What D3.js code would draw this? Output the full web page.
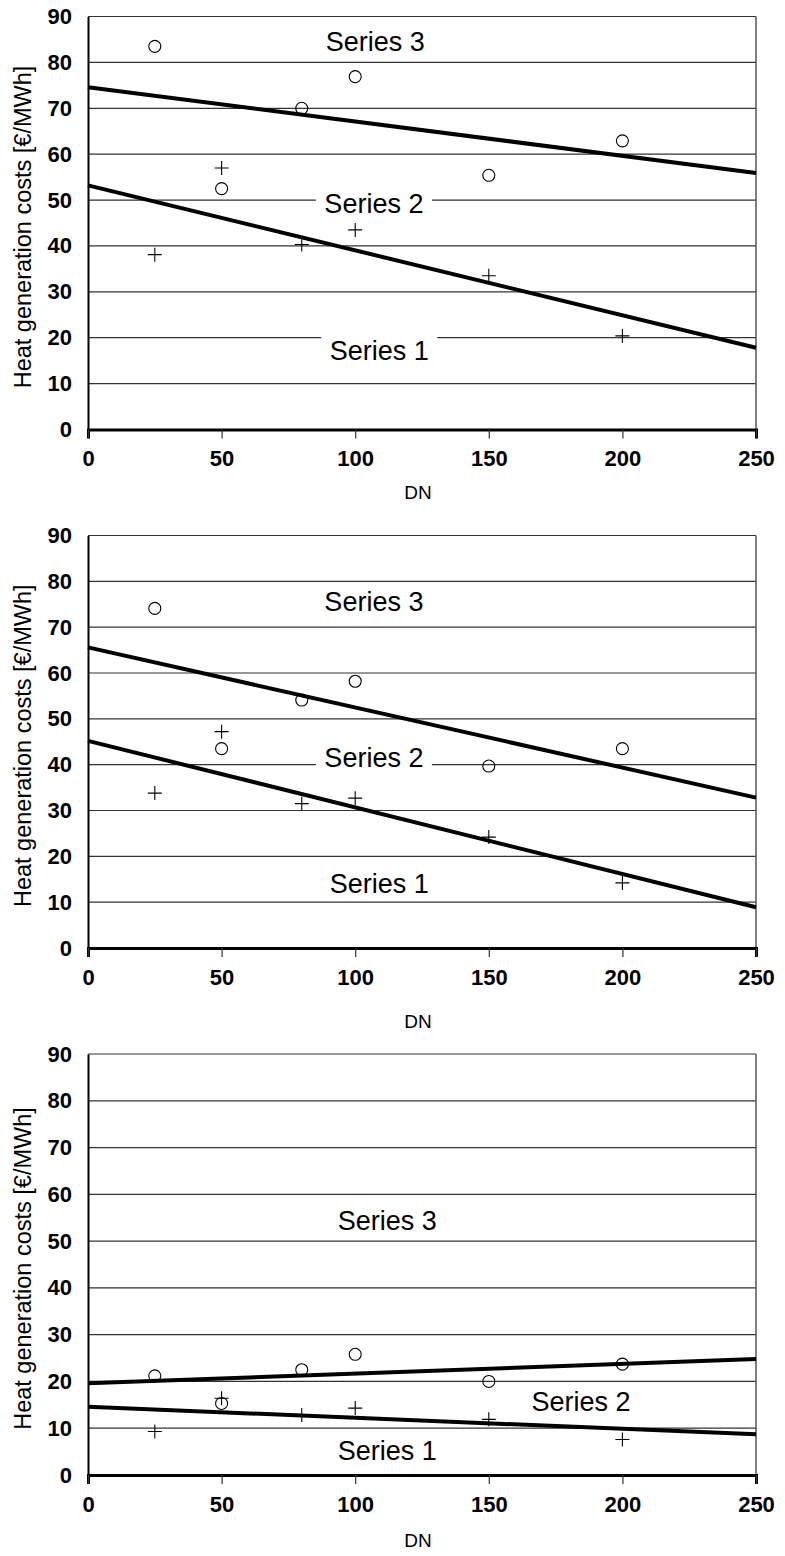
<!DOCTYPE html>
<html>
<head>
<meta charset="utf-8">
<script src="https://cdn.jsdelivr.net/npm/d3@7"></script>
<style>
  body { margin: 0; background: #fff; }
  svg { display: block; }
  text { font-family: Arial, 'Liberation Sans', sans-serif; fill: #000; }
  .tick-label { font-weight: bold; font-size: 22px; }
</style>
</head>
<body>
<svg id="chart" width="785" height="1556"></svg>
<script>
// Data
const DN = [25, 50, 80, 100, 150, 200];
const X_TICKS = [0, 50, 100, 150, 200, 250];
const Y_TICKS = [0, 10, 20, 30, 40, 50, 60, 70, 80, 90];
const SERIES_NAMES = ['Series 1', 'Series 2', 'Series 3'];

// panel 1
const circles1 = [83.5, 52.5, 70.0, 76.9, 55.4, 62.9];
const pluses1 = [38.1, 57.0, 40.3, 43.5, 33.5, 20.4];
const upperLine1 = [[0, 74.6], [250, 55.9]];
const lowerLine1 = [[0, 53.2], [250, 17.8]];
const labelPos1 = [[109, 17.1], [107, 49.2], [107.5, 84.5]];

// panel 2
const circles2 = [74.1, 43.5, 54.1, 58.2, 39.7, 43.5];
const pluses2 = [33.8, 47.2, 31.5, 32.7, 24.2, 14.2];
const upperLine2 = [[0, 65.6], [250, 32.8]];
const lowerLine2 = [[0, 45.2], [250, 8.9]];
const labelPos2 = [[109, 14.0], [107, 41.6], [107, 75.5]];

// panel 3
const circles3 = [21.2, 15.3, 22.5, 25.8, 20.0, 23.7];
const pluses3 = [9.3, 16.4, 12.8, 14.3, 11.9, 7.6];
const upperLine3 = [[0, 19.6], [250, 24.8]];
const lowerLine3 = [[0, 14.6], [250, 8.7]];
const labelPos3 = [[112, 5.3], [184.5, 15.7], [112, 54.5]];

// Layout
const LEFT = 88;
const RIGHT = 756;

const panels = [
  { top: 16.5, bottom: 429.5, dnY: 492, circles: circles1, pluses: pluses1,
    lines: [upperLine1, lowerLine1], labels: labelPos1 },
  { top: 535.5, bottom: 948, dnY: 1021, circles: circles2, pluses: pluses2,
    lines: [upperLine2, lowerLine2], labels: labelPos2 },
  { top: 1054, bottom: 1475, dnY: 1540, circles: circles3, pluses: pluses3,
    lines: [upperLine3, lowerLine3], labels: labelPos3 },
];

const svg = d3.select('#chart');

function drawPanel(p) {
  const x = d3.scaleLinear([0, 250], [LEFT, RIGHT]);
  const y = d3.scaleLinear([0, 90], [p.bottom, p.top]);
  const g = svg.append('g');

  // Gridlines
  g.append('g')
    .selectAll('line')
    .data(Y_TICKS.filter((d) => d > 0))
    .enter()
    .append('line')
    .attr('x1', LEFT)
    .attr('x2', RIGHT)
    .attr('y1', (d) => y(d))
    .attr('y2', (d) => y(d))
    .attr('stroke', '#333')
    .attr('stroke-width', 1.2);

  // Right border
  g.append('line')
    .attr('x1', RIGHT).attr('x2', RIGHT)
    .attr('y1', y(90)).attr('y2', y(0))
    .attr('stroke', '#555')
    .attr('stroke-width', 1.5);

  // Y axis
  const yAxis = d3.axisLeft(y).tickValues(Y_TICKS).tickSize(0).tickPadding(16);
  const ya = g.append('g')
    .attr('transform', `translate(${LEFT},0)`)
    .call(yAxis);
  ya.select('.domain').attr('stroke', '#000').attr('stroke-width', 2);
  ya.selectAll('text').attr('class', 'tick-label').attr('font-family', null).attr('font-size', null);

  // X axis
  const xAxis = d3.axisBottom(x).tickValues(X_TICKS).tickSizeOuter(0).tickSize(9).tickPadding(12);
  const xa = g.append('g')
    .attr('transform', `translate(0,${p.bottom})`)
    .call(xAxis);
  xa.select('.domain').attr('stroke', '#000').attr('stroke-width', 3);
  xa.selectAll('.tick line').attr('stroke', '#333').attr('stroke-width', 1.2);
  xa.selectAll('text').attr('class', 'tick-label').attr('font-family', null).attr('font-size', null);

  // Axis titles
  g.append('text')
    .attr('x', (LEFT + RIGHT) / 2 - 4)
    .attr('y', p.dnY)
    .attr('dy', '0.35em')
    .attr('text-anchor', 'middle')
    .attr('font-size', 19)
    .text('DN');

  g.append('text')
    .attr('transform', `translate(23,${(p.top + p.bottom) / 2 + 4}) rotate(-90)`)
    .attr('dy', '0.35em')
    .attr('text-anchor', 'middle')
    .attr('font-size', 23.5)
    .text('Heat generation costs [€/MWh]');

  // Series labels with white backing
  const labels = g.append('g')
    .selectAll('g')
    .data(p.labels.map((d, i) => ({ pos: d, name: SERIES_NAMES[i] })))
    .enter()
    .append('g')
    .attr('transform', (d) => `translate(${x(d.pos[0])},${y(d.pos[1])})`);
  labels.append('rect')
    .attr('x', -58).attr('y', -15)
    .attr('width', 116).attr('height', 30)
    .attr('fill', '#fff');
  labels.append('text')
    .attr('text-anchor', 'middle')
    .attr('dy', '0.35em')
    .attr('font-size', 27)
    .text((d) => d.name);

  // Trend lines
  const line = d3.line().x((d) => x(d[0])).y((d) => y(d[1]));
  g.selectAll('path.trend')
    .data(p.lines)
    .enter()
    .append('path')
    .attr('class', 'trend')
    .attr('d', line)
    .attr('fill', 'none')
    .attr('stroke', '#000')
    .attr('stroke-width', 4);

  // Circle markers
  g.selectAll('circle.dot')
    .data(DN.map((d, i) => [d, p.circles[i]]))
    .enter()
    .append('circle')
    .attr('class', 'dot')
    .attr('cx', (d) => x(d[0]))
    .attr('cy', (d) => y(d[1]))
    .attr('r', 6)
    .attr('fill', 'none')
    .attr('stroke', '#000')
    .attr('stroke-width', 1.1);

  // Plus markers
  g.selectAll('path.plus')
    .data(DN.map((d, i) => [d, p.pluses[i]]))
    .enter()
    .append('path')
    .attr('class', 'plus')
    .attr('d', (d) => {
      const cx = x(d[0]), cy = y(d[1]);
      return `M${cx - 7},${cy}H${cx + 7}M${cx},${cy - 7}V${cy + 7}`;
    })
    .attr('stroke', '#000')
    .attr('stroke-width', 1.1);
}

panels.forEach(drawPanel);
</script>
</body>
</html>
